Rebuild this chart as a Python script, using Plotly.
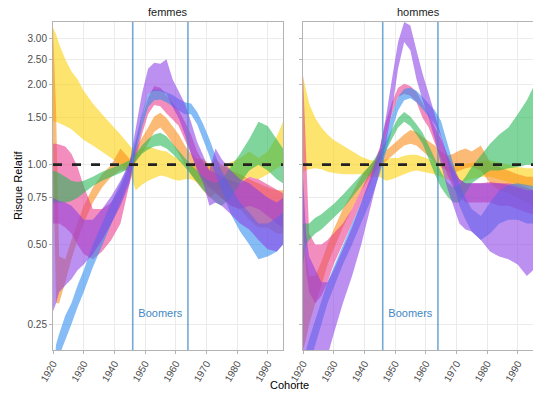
import math
import plotly.graph_objects as go

W, H = 533, 398

YEARS = [1920, 1921, 1922, 1924, 1926, 1928, 1930, 1933, 1936, 1939, 1942, 1945, 1947, 1949,
         1951, 1953, 1955, 1957, 1959, 1961, 1963, 1965, 1967, 1969, 1971, 1973, 1975, 1978,
         1981, 1984, 1987, 1990, 1993, 1995]

PANELS = ["femmes", "hommes"]
GROUP_COLORS = ["#FCD007", "#F88A14", "#E83A8E", "#25B757", "#2F8CF0", "#8A3FE6"]

# ---- femmes ----
F_YEL_LO = [1.45, 1.45, 1.44, 1.40, 1.36, 1.30, 1.24, 1.18, 1.12, 1.06, 1.00, 0.93, 0.80, 0.84, 0.87, 0.89, 0.91, 0.90, 0.88, 0.87, 0.88, 0.88, 0.86, 0.84, 0.82, 0.80, 0.80, 0.83, 0.87, 0.90, 0.88, 0.92, 0.97, 1.00]
F_YEL_HI = [3.30, 3.10, 2.85, 2.50, 2.25, 2.10, 1.90, 1.70, 1.55, 1.42, 1.30, 1.18, 1.10, 1.15, 1.17, 1.15, 1.13, 1.12, 1.08, 1.05, 1.02, 1.00, 1.02, 1.03, 1.00, 0.98, 0.98, 1.02, 1.06, 1.12, 1.06, 1.12, 1.28, 1.45]
F_ORA_LO = [1.20, 0.30, 0.30, 0.36, 0.44, 0.52, 0.60, 0.72, 0.82, 0.90, 0.95, 0.95, 1.02, 1.10, 1.20, 1.33, 1.38, 1.30, 1.20, 1.10, 1.00, 0.92, 0.85, 0.80, 0.75, 0.78, 0.75, 0.70, 0.68, 0.62, 0.58, 0.58, 0.55, 0.55]
F_ORA_HI = [3.30, 1.60, 0.45, 0.44, 0.52, 0.60, 0.70, 0.82, 0.92, 1.00, 1.15, 1.05, 1.15, 1.25, 1.38, 1.52, 1.57, 1.50, 1.40, 1.30, 1.18, 1.10, 1.05, 1.05, 1.00, 1.05, 1.00, 0.95, 0.92, 0.88, 0.85, 0.82, 0.80, 0.80]
F_PIN_LO = [0.60, 0.60, 0.60, 0.58, 0.55, 0.50, 0.46, 0.44, 0.47, 0.52, 0.60, 0.85, 1.05, 1.30, 1.55, 1.68, 1.66, 1.56, 1.48, 1.40, 1.25, 1.10, 0.97, 0.88, 0.82, 0.78, 0.75, 0.70, 0.68, 0.70, 0.68, 0.64, 0.60, 0.58]
F_PIN_HI = [1.20, 1.20, 1.19, 1.17, 1.10, 0.98, 0.83, 0.68, 0.68, 0.72, 0.82, 1.00, 1.20, 1.50, 1.78, 1.98, 1.95, 1.82, 1.70, 1.60, 1.45, 1.30, 1.12, 1.02, 0.95, 0.93, 0.90, 0.87, 0.85, 0.90, 0.88, 0.84, 0.80, 0.78]
F_GRN_LO = [0.72, 0.72, 0.72, 0.72, 0.73, 0.75, 0.78, 0.83, 0.87, 0.90, 0.93, 0.97, 1.03, 1.10, 1.14, 1.17, 1.18, 1.15, 1.10, 1.04, 0.98, 0.92, 0.86, 0.80, 0.76, 0.72, 0.70, 0.75, 0.85, 0.95, 1.00, 0.95, 0.88, 0.85]
F_GRN_HI = [0.95, 0.94, 0.93, 0.90, 0.87, 0.86, 0.87, 0.90, 0.94, 0.97, 1.00, 1.04, 1.10, 1.18, 1.25, 1.30, 1.32, 1.28, 1.20, 1.13, 1.06, 1.00, 0.95, 0.90, 0.87, 0.85, 0.88, 0.98, 1.10, 1.25, 1.45, 1.40, 1.25, 1.15]
F_BLU_LO = [0.12, 0.17, 0.19, 0.22, 0.25, 0.29, 0.33, 0.41, 0.50, 0.60, 0.72, 0.88, 1.10, 1.38, 1.65, 1.75, 1.76, 1.72, 1.66, 1.60, 1.55, 1.55, 1.42, 1.25, 1.08, 0.92, 0.80, 0.65, 0.56, 0.50, 0.44, 0.45, 0.47, 0.50]
F_BLU_HI = [0.15, 0.21, 0.23, 0.27, 0.30, 0.35, 0.40, 0.50, 0.60, 0.72, 0.85, 1.02, 1.25, 1.55, 1.85, 1.92, 1.92, 1.88, 1.83, 1.77, 1.72, 1.70, 1.58, 1.42, 1.25, 1.08, 0.95, 0.82, 0.72, 0.66, 0.60, 0.60, 0.63, 0.66]
F_PUR_LO = [0.28, 0.30, 0.33, 0.35, 0.37, 0.40, 0.42, 0.46, 0.52, 0.60, 0.70, 0.85, 1.15, 1.50, 1.85, 1.90, 1.90, 1.85, 1.65, 1.50, 1.30, 1.10, 0.95, 0.85, 0.70, 0.72, 0.70, 0.65, 0.60, 0.57, 0.52, 0.48, 0.47, 0.50]
F_PUR_HI = [0.75, 0.74, 0.73, 0.72, 0.70, 0.66, 0.62, 0.62, 0.68, 0.76, 0.87, 1.02, 1.40, 1.85, 2.30, 2.42, 2.40, 2.50, 2.10, 1.90, 1.70, 1.45, 1.22, 1.08, 0.95, 1.15, 1.05, 0.95, 0.88, 0.85, 0.80, 0.75, 0.72, 0.75]

# ---- hommes ----
H_YEL_LO = [0.94, 0.95, 0.96, 0.97, 0.96, 0.94, 0.93, 0.92, 0.92, 0.92, 0.90, 0.90, 0.87, 0.88, 0.90, 0.92, 0.94, 0.95, 0.94, 0.93, 0.92, 0.90, 0.88, 0.87, 0.86, 0.87, 0.88, 0.90, 0.90, 0.88, 0.86, 0.84, 0.83, 0.83]
H_YEL_HI = [2.15, 1.90, 1.70, 1.50, 1.38, 1.30, 1.24, 1.18, 1.12, 1.07, 1.04, 1.03, 1.05, 1.06, 1.06, 1.08, 1.09, 1.09, 1.07, 1.05, 1.03, 1.00, 0.98, 0.99, 1.00, 1.01, 1.02, 1.03, 1.04, 1.02, 1.00, 0.98, 0.97, 0.97]
H_ORA_LO = [0.20, 0.22, 0.25, 0.30, 0.35, 0.42, 0.48, 0.58, 0.68, 0.80, 0.90, 0.98, 1.03, 1.08, 1.13, 1.18, 1.20, 1.18, 1.12, 1.07, 1.02, 0.98, 0.95, 0.93, 0.95, 0.97, 0.98, 0.95, 0.85, 0.80, 0.78, 0.75, 0.72, 0.70]
H_ORA_HI = [0.50, 0.45, 0.38, 0.38, 0.43, 0.50, 0.57, 0.68, 0.78, 0.90, 1.00, 1.08, 1.13, 1.18, 1.24, 1.30, 1.35, 1.33, 1.27, 1.22, 1.18, 1.12, 1.08, 1.10, 1.13, 1.15, 1.12, 1.18, 1.02, 0.98, 0.95, 0.92, 0.90, 0.90]
H_PIN_LO = [0.60, 0.40, 0.33, 0.30, 0.32, 0.36, 0.42, 0.50, 0.60, 0.72, 0.85, 1.05, 1.30, 1.55, 1.80, 1.85, 1.82, 1.72, 1.50, 1.38, 1.20, 1.05, 0.92, 0.82, 0.76, 0.72, 0.72, 0.72, 0.72, 0.70, 0.70, 0.68, 0.66, 0.65]
H_PIN_HI = [2.20, 1.00, 0.55, 0.50, 0.50, 0.52, 0.55, 0.60, 0.68, 0.80, 0.95, 1.15, 1.45, 1.72, 1.95, 2.02, 1.98, 1.88, 1.70, 1.55, 1.38, 1.25, 1.10, 0.98, 0.88, 0.85, 0.85, 0.85, 0.86, 0.85, 0.85, 0.84, 0.82, 0.80]
H_GRN_LO = [0.42, 0.50, 0.52, 0.55, 0.57, 0.60, 0.63, 0.68, 0.75, 0.83, 0.92, 1.02, 1.12, 1.25, 1.38, 1.45, 1.40, 1.30, 1.20, 1.05, 0.92, 0.82, 0.76, 0.72, 0.72, 0.78, 0.85, 0.90, 0.95, 0.95, 0.97, 0.98, 1.00, 1.00]
H_GRN_HI = [0.60, 0.60, 0.60, 0.63, 0.65, 0.68, 0.71, 0.77, 0.84, 0.92, 1.00, 1.12, 1.22, 1.36, 1.50, 1.58, 1.52, 1.42, 1.32, 1.18, 1.05, 0.94, 0.86, 0.82, 0.84, 0.90, 0.98, 1.08, 1.20, 1.30, 1.38, 1.55, 1.75, 1.95]
H_BLU_LO = [0.12, 0.16, 0.18, 0.21, 0.25, 0.30, 0.34, 0.42, 0.50, 0.60, 0.73, 0.92, 1.12, 1.35, 1.60, 1.75, 1.78, 1.72, 1.62, 1.52, 1.42, 1.28, 1.05, 0.85, 0.70, 0.62, 0.56, 0.52, 0.55, 0.60, 0.62, 0.62, 0.60, 0.60]
H_BLU_HI = [0.16, 0.20, 0.22, 0.26, 0.31, 0.36, 0.41, 0.50, 0.60, 0.72, 0.87, 1.08, 1.30, 1.55, 1.80, 1.93, 1.95, 1.90, 1.80, 1.70, 1.60, 1.46, 1.22, 1.00, 0.84, 0.75, 0.68, 0.64, 0.72, 0.80, 0.84, 0.85, 0.84, 0.83]
H_PUR_LO = [0.20, 0.17, 0.16, 0.16, 0.17, 0.19, 0.23, 0.30, 0.38, 0.50, 0.68, 0.95, 1.20, 1.60, 2.30, 2.90, 2.70, 2.10, 1.75, 1.50, 1.25, 1.00, 0.82, 0.70, 0.60, 0.57, 0.56, 0.52, 0.47, 0.45, 0.44, 0.42, 0.38, 0.40]
H_PUR_HI = [0.90, 0.55, 0.45, 0.40, 0.36, 0.36, 0.40, 0.48, 0.58, 0.72, 0.90, 1.15, 1.50, 2.10, 2.90, 3.45, 3.35, 2.70, 2.20, 1.85, 1.55, 1.28, 1.08, 0.95, 0.88, 0.85, 0.85, 0.85, 0.85, 0.85, 0.84, 0.82, 0.80, 0.80]

BOOM_START, BOOM_END = 1946, 1964
REF_LEVEL = 1.0
X_RANGE = [1920, 1995]
Y_RANGE = [0.2, 3.46]
Y_TICKS = [0.25, 0.5, 0.75, 1.0, 1.5, 2.0, 2.5, 3.0]
Y_TICKTEXT = ["0.25", "0.50", "0.75", "1.00", "1.50", "2.00", "2.50", "3.00"]
X_TICKS = [1920, 1930, 1940, 1950, 1960, 1970, 1980, 1990]
BOOMERS_LABEL_POS = (1955, 0.272)

FEM = [(F_YEL_LO, F_YEL_HI), (F_ORA_LO, F_ORA_HI), (F_PIN_LO, F_PIN_HI),
       (F_GRN_LO, F_GRN_HI), (F_BLU_LO, F_BLU_HI), (F_PUR_LO, F_PUR_HI)]
HOM = [(H_YEL_LO, H_YEL_HI), (H_ORA_LO, H_ORA_HI), (H_PIN_LO, H_PIN_HI),
       (H_GRN_LO, H_GRN_HI), (H_BLU_LO, H_BLU_HI), (H_PUR_LO, H_PUR_HI)]


def rgba(hexc, a):
    h = hexc.lstrip("#")
    r, g, b = int(h[0:2], 16), int(h[2:4], 16), int(h[4:6], 16)
    return f"rgba({r},{g},{b},{a})"


fig = go.Figure()
FONT = "Liberation Sans, Arial, sans-serif"

for pi, series in enumerate([FEM, HOM]):
    xa = "x" if pi == 0 else "x2"
    ya = "y" if pi == 0 else "y2"
    for (lo, hi), col in zip(series, GROUP_COLORS):
        fig.add_trace(go.Scatter(
            x=YEARS + YEARS[::-1], y=hi + lo[::-1], fill="toself",
            fillcolor=rgba(col, 0.58), line=dict(width=0), mode="lines",
            hoverinfo="skip", showlegend=False, xaxis=xa, yaxis=ya))
    for yr in (BOOM_START, BOOM_END):
        fig.add_trace(go.Scatter(x=[yr, yr], y=Y_RANGE, mode="lines",
                                 line=dict(color="rgba(70,140,200,0.75)", width=1.6),
                                 hoverinfo="skip", showlegend=False, xaxis=xa, yaxis=ya))
    fig.add_trace(go.Scatter(x=X_RANGE, y=[REF_LEVEL, REF_LEVEL], mode="lines",
                             line=dict(color="#222222", width=2.6, dash="9px,10px"),
                             hoverinfo="skip", showlegend=False, xaxis=xa, yaxis=ya))
    fig.add_trace(go.Scatter(x=[BOOMERS_LABEL_POS[0]], y=[BOOMERS_LABEL_POS[1]], mode="text",
                             text=["Boomers"], textfont=dict(color="#3F88C5", size=11, family=FONT),
                             hoverinfo="skip", showlegend=False, xaxis=xa, yaxis=ya))

L1, R1 = 53 / W, 283 / W
L2, R2 = 303 / W, 533 / W
YB, YT = (H - 350) / H, (H - 21.7) / H

axis_common = dict(
    range=X_RANGE, tickvals=X_TICKS, tickangle=-60, showgrid=True, gridcolor="#EBEBEB",
    gridwidth=1, zeroline=False, showline=True, mirror=True, linecolor="#B3B3B3",
    linewidth=1, ticks="outside", ticklen=3, tickcolor="#B3B3B3", automargin=False,
    tickfont=dict(size=10, color="#4D4D4D", family=FONT),
)
yaxis_common = dict(
    type="log", range=[math.log10(Y_RANGE[0]), math.log10(Y_RANGE[1])],
    tickvals=Y_TICKS, ticktext=Y_TICKTEXT, showgrid=True, gridcolor="#EBEBEB", gridwidth=1,
    zeroline=False, showline=True, mirror=True, linecolor="#B3B3B3", linewidth=1,
    ticks="outside", ticklen=3, tickcolor="#B3B3B3", automargin=False,
    tickfont=dict(size=10, color="#4D4D4D", family=FONT), domain=[YB, YT],
)


def ann(text, xpx, ypx, size=11, color="#000000", angle=0):
    return dict(text=text, x=xpx / W, y=(H - ypx) / H, xref="paper", yref="paper",
                xanchor="center", yanchor="middle", textangle=angle, showarrow=False,
                font=dict(size=size, color=color, family=FONT))


fig.update_layout(
    template="none",
    width=W, height=H, margin=dict(l=0, r=0, t=0, b=0, autoexpand=False),
    paper_bgcolor="white", plot_bgcolor="white",
    xaxis=dict(domain=[L1, R1], anchor="y", **axis_common),
    xaxis2=dict(domain=[L2, R2], anchor="y2", **axis_common),
    yaxis=dict(anchor="x", **yaxis_common),
    yaxis2=dict(anchor="x2", showticklabels=False, **yaxis_common),
    annotations=[
        ann(PANELS[0], (53 + 283) / 2, 12, color="#1A1A1A"),
        ann(PANELS[1], (303 + 533) / 2, 12, color="#1A1A1A"),
        ann("Risque Relatif", 18, 186, angle=-90),
        ann("Cohorte", 289, 385),
    ],
)

fig.write_html("out.html", config={"displayModeBar": False},
               post_script="document.body.style.margin='0';document.body.style.overflow='hidden';")
